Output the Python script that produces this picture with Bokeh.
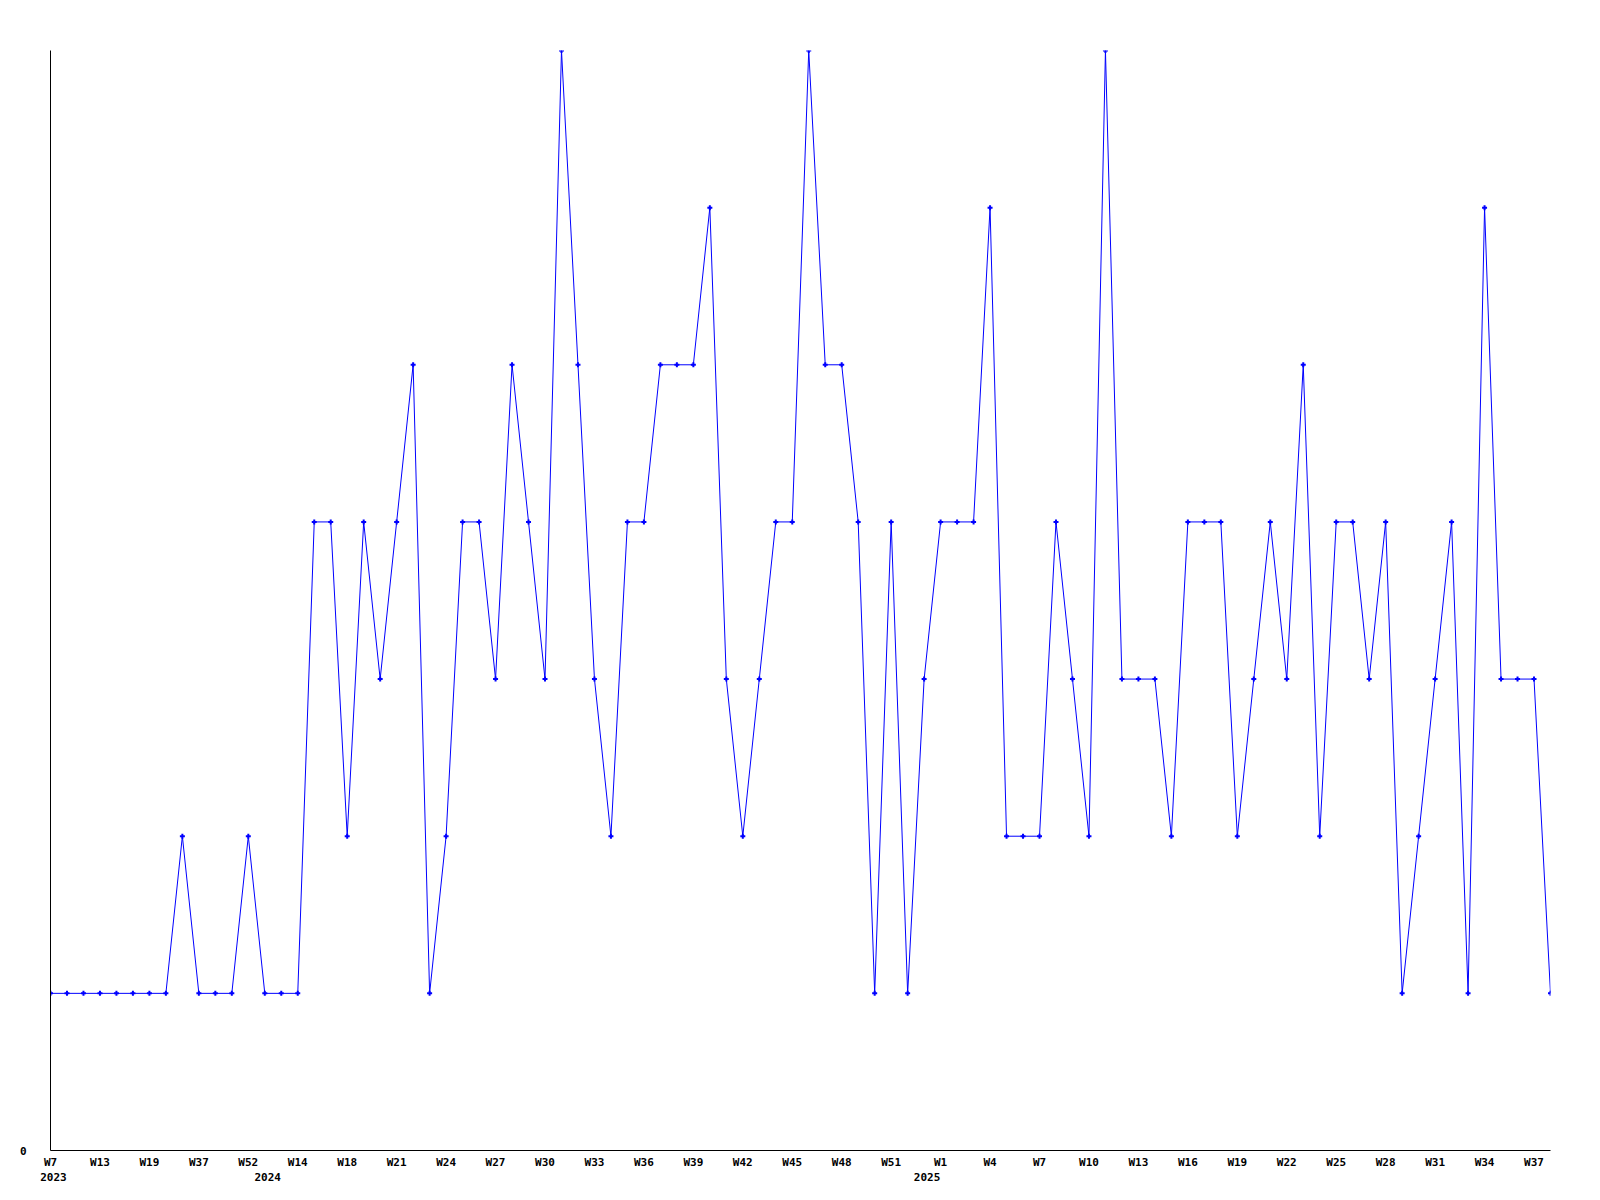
from bokeh.plotting import figure
from bokeh.models import Range1d, FixedTicker, LinearAxis
from bokeh.embed import file_html
from bokeh.resources import INLINE

# weekly counts, one per data point (92 points)
values = [
    1, 1, 1, 1, 1, 1, 1, 1, 2, 1, 1, 1, 2, 1, 1, 1,
    4, 4, 2, 4, 3, 4, 5, 1, 2, 4, 4, 3, 5, 4, 3, 7,
    5, 3, 2, 4, 4, 5, 5, 5, 6, 3, 2, 3, 4, 4, 7, 5,
    5, 4, 1, 4, 1, 3, 4, 4, 4, 6, 2, 2, 2, 4, 3, 2,
    7, 3, 3, 3, 2, 4, 4, 4, 2, 3, 4, 3, 5, 2, 4, 4,
    3, 4, 1, 2, 3, 4, 1, 6, 3, 3, 3, 1,
]

# week tick labels, shown on every third point
week_labels = [
    "W7", "W13", "W19", "W37", "W52", "W14", "W18", "W21", "W24", "W27",
    "W30", "W33", "W36", "W39", "W42", "W45", "W48", "W51", "W1", "W4",
    "W7", "W10", "W13", "W16", "W19", "W22", "W25", "W28", "W31", "W34", "W37",
]
week_label_step = 3

# year labels and the point index where each year starts
year_labels = ["2023", "2024", "2025"]
year_index = [0, 13, 53]

y_max = 7

FONT = "DejaVu Sans Mono"

x = list(range(len(values)))

p = figure(
    width=1592, height=1192,
    x_range=Range1d(0, len(values) - 1),
    y_range=Range1d(0, y_max),
    x_axis_type=None, y_axis_type=None,
    output_backend="svg", toolbar_location=None,
    min_border_left=50, min_border_top=50,
    min_border_right=42, min_border_bottom=42,
)
p.outline_line_color = None
p.background_fill_color = "white"
p.border_fill_color = "white"

def style_axis(ax, standoff):
    ax.major_tick_out = 0
    ax.major_tick_in = 0
    ax.minor_tick_out = 0
    ax.minor_tick_in = 0
    ax.major_label_standoff = standoff
    ax.major_label_text_font = FONT
    ax.major_label_text_font_style = "bold"
    ax.major_label_text_font_size = "11px"
    ax.major_label_text_color = "black"
    ax.axis_line_color = "black"
    ax.axis_line_width = 1

# y axis: only the zero label
yaxis = LinearAxis(ticker=FixedTicker(ticks=[0]))
style_axis(yaxis, 24)
p.add_layout(yaxis, "left")

# x axis: week labels on every third point
week_ticks = [i * week_label_step for i in range(len(week_labels))]
xaxis = LinearAxis(
    ticker=FixedTicker(ticks=week_ticks),
    major_label_overrides={t: lbl for t, lbl in zip(week_ticks, week_labels)},
)
style_axis(xaxis, 5)
p.add_layout(xaxis, "below")

# second row: years (slightly shifted like left-aligned labels)
p.extra_x_ranges["yr"] = Range1d(-0.18, len(values) - 1 - 0.18)
yaxis2 = LinearAxis(
    x_range_name="yr",
    ticker=FixedTicker(ticks=year_index),
    major_label_overrides={t: lbl for t, lbl in zip(year_index, year_labels)},
)
style_axis(yaxis2, 1)
yaxis2.axis_line_color = None
p.add_layout(yaxis2, "below")

p.line(x, values, line_color="#0000ff", line_width=1)
p.scatter(x, values, marker="cross", size=5, line_color="#0000ff", line_width=2)

open("out.html", "w").write(file_html(p, INLINE))
